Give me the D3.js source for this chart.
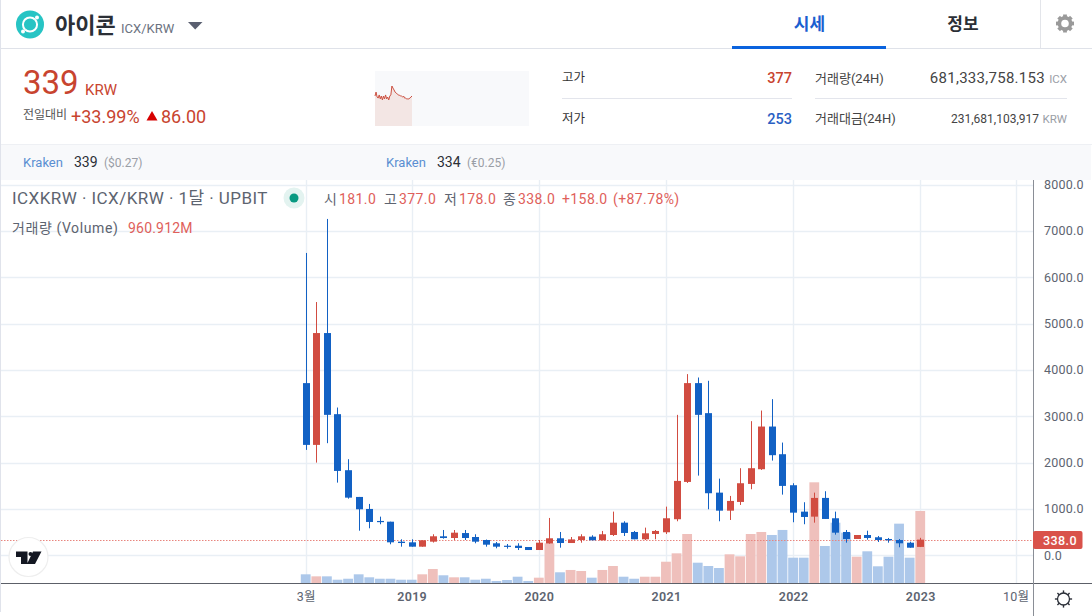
<!DOCTYPE html>
<html lang="ko"><head><meta charset="utf-8">
<script src="https://cdn.jsdelivr.net/npm/d3@7"></script>
<style>
html,body{margin:0;padding:0;background:#fff;overflow:hidden}
svg{display:block}
text{font-family:Roboto,"Noto Sans CJK KR",sans-serif}
</style></head><body><svg id="c" width="1092" height="616"></svg>
<script>
const opens=[3715,2382,4795,3045,1836,1259,1000,741,725,294,280,186,294,410,373,480,395,330,259,207,207,179,114,255,367,265,330,402,324,438,704,503,345,460,497,778,1583,3715,3067,1352,963,1151,1540,1857,2778,2181,1512,942,834,1238,799,503,352,438,389,352,330,272,181];
const highs=[6523,5464,7257,3188,2073,1259,1108,834,725,345,345,324,454,546,546,546,454,340,287,244,259,179,330,806,503,395,454,432,525,942,734,525,597,546,1050,3030,3909,3836,3765,1654,1281,1879,2894,3123,3369,2432,1555,1145,1352,1382,942,546,438,531,417,374,352,294,377];
const lows=[2274,2000,2419,1568,1222,531,583,670,238,186,186,186,275,359,330,330,259,186,151,143,114,114,114,250,164,265,272,324,324,417,417,345,330,345,460,734,1561,1719,993,734,762,1086,1425,1842,2043,1309,713,670,704,784,445,272,352,337,287,272,173,164,178];
const closes=[2382,4795,3030,1820,1244,993,719,719,280,265,186,324,410,373,488,373,294,229,186,186,158,114,272,367,265,343,410,324,454,704,482,345,475,525,799,1605,3715,3030,1339,963,1173,1555,1879,2778,2160,1497,920,827,1238,784,488,352,438,374,330,324,259,164,338];
const volumes=[116,89,89,44,57,116,76,57,57,44,44,116,187,103,76,76,44,57,27,40,84,27,71,530,143,174,160,71,174,227,84,57,84,84,284,396,654,271,227,200,383,356,654,681,641,708,338,338,1344,494,805,672,351,423,223,351,792,338,961];
const priceTicks=[0,1000,2000,3000,4000,5000,6000,7000,8000];
const timeTickIndex=[0,10,22,34,46,58,67];
const timeTickLabels=["3월","2019","2020","2021","2022","2023","10월"];
const sparkValues=[339,354,335,331,343,328,339,324,339,328,343,328,335,324,339,343,377,369,362,354,350,347,343,343,339,339,335,339,331,331,328,328,328,331,335,339];
const lastClose=338;

const svg=d3.select("#c");
const RED="#d14c41",BLUE="#1261c4",GRID="#e9eff5";
const x=d3.scaleLinear().domain([0,67]).range([305.7,1015.6]);
const y=d3.scaleLinear().domain([0,8000]).range([555.3,184.5]);
const v=d3.scaleLinear().domain([0,1344]).range([583,482.3]);
const px=i=>Math.round(x(i));
const col=i=>closes[i]>=opens[i]?RED:BLUE;
const idx=d3.range(opens.length);

function t(s,xp,yp,o={}){
  return svg.append("text").attr("x",xp).attr("y",yp).text(s)
    .attr("font-size",o.size||13).attr("fill",o.fill||"#333")
    .attr("font-weight",o.weight||400).attr("text-anchor",o.anchor||"start")
    .style("letter-spacing",o.ls||"normal");
}
function hline(x1,x2,yp,c){svg.append("line").attr("x1",x1).attr("x2",x2).attr("y1",yp).attr("y2",yp).attr("stroke",c);}
function vline(xp,y1,y2,c){svg.append("line").attr("x1",xp).attr("x2",xp).attr("y1",y1).attr("y2",y2).attr("stroke",c);}

/* chart grid */
const grid=svg.append("g");
priceTicks.forEach(p=>{const yy=Math.round(y(p))+.5;grid.append("line").attr("x1",1).attr("x2",1033).attr("y1",yy).attr("y2",yy).attr("stroke",GRID).attr("stroke-width",1.4);});
timeTickIndex.forEach(i=>{const xx=px(i)+.5;grid.append("line").attr("x1",xx).attr("x2",xx).attr("y1",180).attr("y2",584).attr("stroke",GRID).attr("stroke-width",1.4);});

/* volume */
svg.append("g").selectAll("rect").data(idx).join("rect")
  .attr("x",i=>x(i)-4.9).attr("width",9.8)
  .attr("y",i=>v(volumes[i])).attr("height",i=>v(0)-v(volumes[i]))
  .attr("fill",i=>col(i)==RED?"#efc0bc":"#adc8ea");

/* last price line */
const lastY=Math.round(y(lastClose))+.5;
svg.append("line").attr("x1",1).attr("x2",1033).attr("y1",lastY).attr("y2",lastY)
  .attr("stroke","#e8857e").attr("stroke-dasharray","1.5 1.5").attr("stroke-width",1);

/* candles */
const candles=svg.append("g");
candles.selectAll("line").data(idx).join("line")
  .attr("x1",i=>px(i)+.5).attr("x2",i=>px(i)+.5)
  .attr("y1",i=>y(highs[i])).attr("y2",i=>y(lows[i]))
  .attr("stroke",col).attr("stroke-width",1);
candles.selectAll("rect").data(idx).join("rect")
  .attr("x",i=>px(i)-3).attr("width",7)
  .attr("y",i=>y(Math.max(opens[i],closes[i])))
  .attr("height",i=>Math.max(1.2,Math.abs(y(opens[i])-y(closes[i]))))
  .attr("fill",col);

/* axes */
const yAxis=svg.append("g").attr("transform","translate(1033,0)")
  .call(d3.axisRight(y).tickValues(priceTicks).tickSize(0).tickPadding(0).tickFormat(d=>d3.format(".1f")(d)));
yAxis.select(".domain").remove();
yAxis.selectAll("text").attr("x",11).attr("font-size",12.5).attr("fill","#5d6470").attr("font-family",null).style("letter-spacing",".2px");
const xAxis=svg.append("g").attr("transform","translate(0,584)")
  .call(d3.axisBottom(x).tickValues(timeTickIndex).tickSize(0).tickPadding(0).tickFormat((d,i)=>timeTickLabels[i]));
xAxis.select(".domain").remove();
xAxis.selectAll("text").attr("y",8).attr("font-size",12.5).attr("fill","#5d6470").attr("font-family",null).attr("font-weight",(d,i)=>i>0&&i<6?600:400).style("letter-spacing",".3px");
hline(1,1092,583.5,"#5c6068");
vline(1033.5,180,616,"#8a8e96");

/* price tag */
svg.append("rect").attr("x",1033).attr("y",531).attr("width",49.5).attr("height",18).attr("rx",2).attr("fill","#d9524a");
t(d3.format(".1f")(lastClose),1077,544.5,{size:12.5,fill:"#fff",anchor:"end",weight:500,ls:".4px"});

/* bottom-right gear */
const g2=svg.append("g").attr("transform","translate(1063.5,599)");
g2.append("circle").attr("r",6).attr("fill","none").attr("stroke","#2b2f38").attr("stroke-width",1.3);
d3.range(8).forEach(k=>{g2.append("line").attr("x1",5.8).attr("x2",8.6).attr("y1",0).attr("y2",0).attr("stroke","#2b2f38").attr("stroke-width",1.4).attr("transform",`rotate(${k*45})`);});

/* TV logo */
svg.append("circle").attr("cx",28.5).attr("cy",557).attr("r",19.5).attr("fill","#fff").attr("stroke","#eeeeee").attr("stroke-width",1.2);
svg.append("path").attr("d","M16,551.5H27.5V564H21V557H16Z M33,551.5H41.5L35,564H27Z").attr("fill","#131722");
svg.append("circle").attr("cx",30.5).attr("cy",554).attr("r",2).attr("fill","#131722");

/* page frame and top panel */
svg.append("rect").attr("x",0).attr("y",0).attr("width",1092).attr("height",180).attr("fill","#fff");
svg.append("rect").attr("x",0).attr("y",144).attr("width",1091).attr("height",36).attr("fill","#f8f9fb");
hline(0,1092,144.5,"#eef0f4");
hline(0,1092,48.5,"#dfe2e9");
vline(.5,0,612,"#e0e3eb");
vline(1040.5,0,48,"#e3e5ea");

/* ICON logo */
const lg=svg.append("g").attr("transform","translate(30,24.5)");
lg.append("circle").attr("r",14).attr("fill","#27c4c4");
lg.append("path").attr("d","M-5,5A7,7 0 0 1 5,-5").attr("fill","none").attr("stroke","#fff").attr("stroke-width",2);
lg.append("path").attr("d","M5,-5A7,7 0 0 1 -5,5").attr("fill","none").attr("stroke","#fff").attr("stroke-width",2);
lg.append("circle").attr("cx",-7).attr("cy",7).attr("r",2).attr("fill","#fff");
lg.append("circle").attr("cx",7).attr("cy",-7).attr("r",2).attr("fill","#fff");

t("아이콘",55,32.5,{size:22,weight:700,fill:"#2b2f36"});
t("ICX/KRW",121,32.5,{size:13,fill:"#6b7280"});
svg.append("path").attr("d","M188,22H202.5L195.2,29.5Z").attr("fill","#5a5f70");
t("시세",809.5,30,{size:17,weight:700,fill:"#1a5fd0",anchor:"middle"});
t("정보",963,30,{size:17,weight:700,fill:"#2b2f36",anchor:"middle"});
svg.append("rect").attr("x",732).attr("y",46).attr("width",154).attr("height",3).attr("fill","#0a63de");

const g1=svg.append("g").attr("transform","translate(1065,23.5)");
g1.append("circle").attr("r",5.6).attr("fill","none").attr("stroke","#9a9a9a").attr("stroke-width",3.6);
d3.range(8).forEach(k=>{g1.append("rect").attr("x",6).attr("y",-1.9).attr("width",3).attr("height",3.8).attr("fill","#9a9a9a").attr("transform",`rotate(${k*45})`);});

/* price block */
const PR="#c8442f";
t("339",23,94,{size:33,fill:PR});
t("KRW",85,95,{size:15,fill:PR});
t("전일대비",23,119,{size:12,fill:"#555"});
t("+33.99%",71,123,{size:18,fill:PR});
svg.append("path").attr("d","M146.5,120.5L152,111L157.5,120.5Z").attr("fill","#d60000");
t("86.00",161,123,{size:18,fill:PR});

/* sparkline */
svg.append("rect").attr("x",375).attr("y",71).attr("width",154).attr("height",55).attr("fill","#f8f9fb");
const sx=d3.scaleLinear().domain([0,sparkValues.length-1]).range([375,412]);
const sy=d3.scaleLinear().domain([225,434]).range([126,71]);
svg.append("path").attr("d",d3.area().x((d,i)=>sx(i)).y0(126).y1(d=>sy(d))(sparkValues)).attr("fill","#f3e6e4");
svg.append("path").attr("d",d3.line().x((d,i)=>sx(i)).y(d=>sy(d))(sparkValues)).attr("fill","none").attr("stroke","#cc5040").attr("stroke-width",1);

/* stats */
t("고가",562,81.5,{size:12.5,fill:"#333"});
t("377",792,83,{size:14.5,fill:PR,anchor:"end",weight:500});
hline(562,792,98.5,"#e3e5ec");
t("저가",562,122.5,{size:12.5,fill:"#333"});
t("253",792,124,{size:14.5,fill:"#2a5fc4",anchor:"end",weight:500});
t("거래량(24H)",815,82.5,{size:13,fill:"#444"});
t("681,333,758.153",1045,83,{size:15,fill:"#444",anchor:"end",ls:".28px"});
t("ICX",1067,83,{size:11.5,fill:"#9a9ea6",anchor:"end"});
hline(815,1067,98.5,"#e3e5ec");
t("거래대금(24H)",815,123,{size:13,fill:"#444"});
t("231,681,103,917",1039,123,{size:12,fill:"#444",anchor:"end"});
t("KRW",1067,123,{size:11.5,fill:"#9a9ea6",anchor:"end"});

/* kraken row */
[[23,74,104,"339","($0.27)"],[386,437,467,"334","(€0.25)"]].forEach(r=>{
  t("Kraken",r[0],166.5,{size:13,fill:"#5b8fd2"});
  t(r[3],r[1],166.5,{size:14,fill:"#2b2f36"});
  t(r[4],r[2],166.5,{size:12,fill:"#9a9ea6"});
});

/* chart legend */
const LG="#5d6470",LR="#e0605a";
t("ICXKRW · ICX/KRW · 1달 · UPBIT",12,204,{size:17,fill:LG,ls:".45px"});
svg.append("circle").attr("cx",294).attr("cy",198).attr("r",10.5).attr("fill","#e3f3f0");
svg.append("circle").attr("cx",294).attr("cy",198).attr("r",4.5).attr("fill","#089981");
[["시",324],["고",384],["저",444],["종",503]].forEach(a=>t(a[0],a[1],204,{size:14,fill:LG}));
[["181.0",339],["377.0",399],["178.0",459],["338.0",518],["+158.0",562],["(+87.78%)",613]].forEach(a=>t(a[0],a[1],204,{size:14,fill:LR,ls:".4px"}));
t("거래량 (Volume)",12,233,{size:14,fill:LG,ls:".6px"});
t("960.912M",128,233,{size:14,fill:LR,ls:".2px"});
</script></body></html>
